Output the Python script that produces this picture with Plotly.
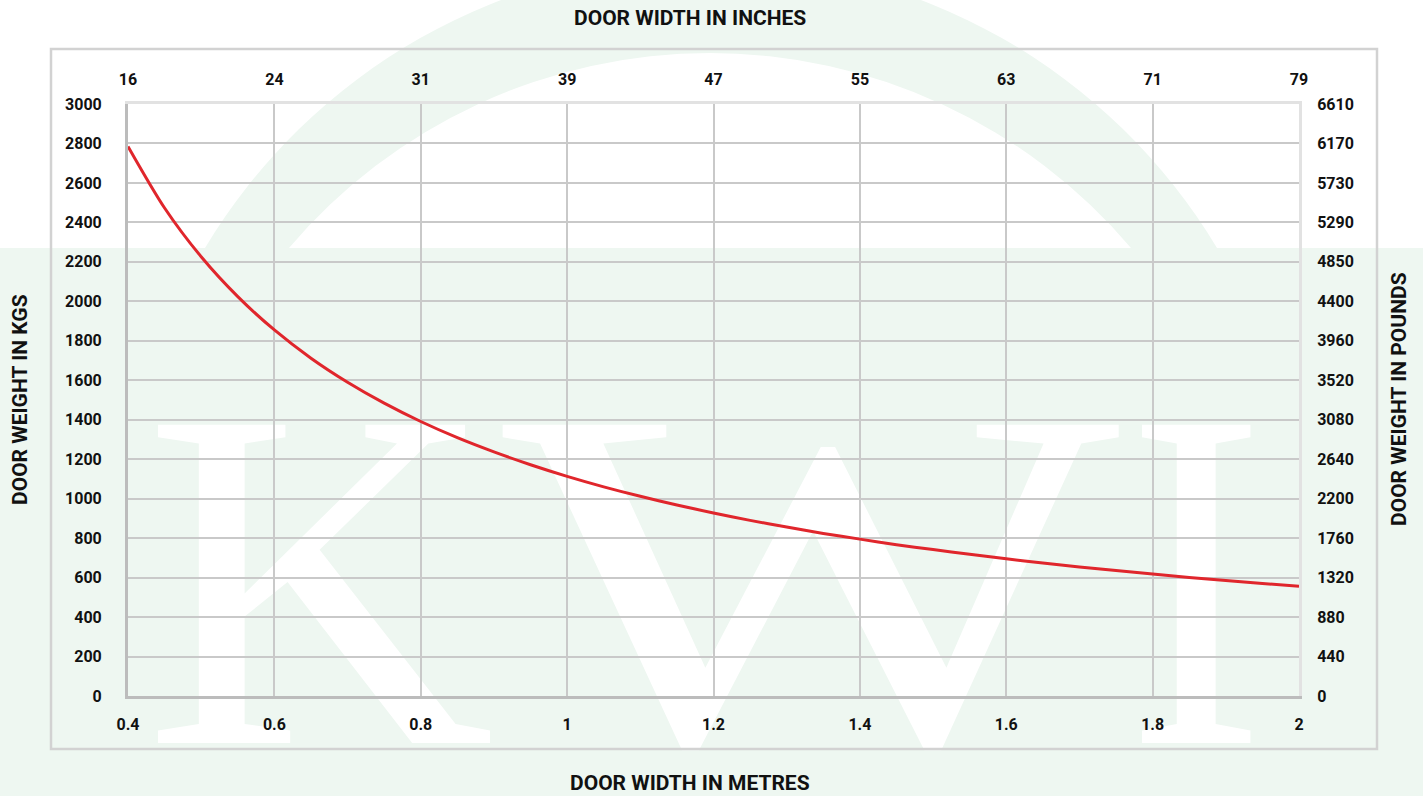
import plotly.graph_objects as go
import base64

# ---------------- data ----------------
width_m = [0.40, 0.45, 0.50, 0.55, 0.60, 0.65, 0.70, 0.75, 0.80, 0.85, 0.90,
           0.95, 1.00, 1.05, 1.10, 1.15, 1.20, 1.25, 1.30, 1.35, 1.40, 1.45,
           1.50, 1.55, 1.60, 1.65, 1.70, 1.75, 1.80, 1.85, 1.90, 1.95, 2.00]
weight_kg = [2785, 2473, 2226, 2024, 1855, 1712, 1590, 1484, 1391, 1309, 1237,
             1172, 1113, 1060, 1012, 968, 927, 890, 856, 824, 795, 767,
             742, 718, 695, 674, 654, 636, 618, 601, 585, 570, 556]

x_ticks_m = [0.4, 0.6, 0.8, 1.0, 1.2, 1.4, 1.6, 1.8, 2.0]
x_tick_m_labels = ["0.4", "0.6", "0.8", "1", "1.2", "1.4", "1.6", "1.8", "2"]
x_tick_in_labels = ["16", "24", "31", "39", "47", "55", "63", "71", "79"]

y_ticks_kg = [0, 200, 400, 600, 800, 1000, 1200, 1400, 1600, 1800, 2000,
              2200, 2400, 2600, 2800, 3000]
y_tick_lb_labels = ["0", "440", "880", "1320", "1760", "2200", "2640", "3080",
                    "3520", "3960", "4400", "4850", "5290", "5730", "6170", "6610"]

title_top = "DOOR WIDTH IN INCHES"
title_bottom = "DOOR WIDTH IN METRES"
title_left = "DOOR WEIGHT IN KGS"
title_right = "DOOR WEIGHT IN POUNDS"

# ---------------- layout geometry ----------------
W, H = 1423, 796
ML, MR, MT, MB = 128, 124, 104, 100
PW, PH = W - ML - MR, H - MT - MB

GREEN = "#eef7f1"
FONT = "Roboto, Liberation Sans, Arial, sans-serif"

# background watermark (svg): green band, arch ring and serif letters
ring = ("M 205,248 A 590 590 0 0 1 1217,248 "
        "L 1131,248 A 552 552 0 0 0 289,248 Z")
svg = f"""<svg xmlns='http://www.w3.org/2000/svg' width='{W}' height='{H}' viewBox='0 0 {W} {H}'>
<rect x='0' y='248' width='{W}' height='{H-248}' fill='{GREEN}'/>
<path d='{ring}' fill='{GREEN}'/>
<g font-family='Liberation Serif, Times New Roman, serif' font-size='486' fill='#ffffff'>
<text x='144' y='743' textLength='351' lengthAdjust='spacingAndGlyphs'>K</text>
<text x='502' y='743' textLength='618' lengthAdjust='spacingAndGlyphs'>W</text>
<text x='1127' y='743' textLength='138' lengthAdjust='spacingAndGlyphs'>I</text>
</g>
</svg>"""
svg_uri = "data:image/svg+xml;base64," + base64.b64encode(svg.encode()).decode()

fig = go.Figure()
fig.add_trace(go.Scatter(x=width_m, y=weight_kg, mode="lines",
                         line=dict(color="#e0262c", width=3, shape="spline", smoothing=0.8),
                         showlegend=False, hoverinfo="x+y"))
# invisible companion trace for the secondary (inches / pounds) axes
fig.add_trace(go.Scatter(x=width_m, y=weight_kg, mode="lines", xaxis="x2", yaxis="y2",
                         line=dict(color="rgba(0,0,0,0)", width=0), showlegend=False, hoverinfo="skip"))

tickfont = dict(family=FONT, size=16, color="#111111", weight="bold")
grid = "#c9c9c9"

fig.update_layout(
    width=W, height=H,
    margin=dict(l=ML, r=MR, t=MT, b=MB),
    paper_bgcolor="white",
    plot_bgcolor="rgba(0,0,0,0)",
    xaxis=dict(range=[0.4, 2.0], tickvals=x_ticks_m, ticktext=x_tick_m_labels, showgrid=True,
               gridcolor=grid, gridwidth=2, showline=True, linecolor="#bcbcbc", linewidth=3,
               zeroline=False, ticks="", tickfont=tickfont, ticklabelstandoff=12),
    xaxis2=dict(range=[0.4, 2.0], tickvals=x_ticks_m, ticktext=x_tick_in_labels, overlaying="x",
                side="top", showgrid=False, showline=True, linecolor="#e2e2e2", linewidth=3,
                zeroline=False, ticks="", tickfont=tickfont, ticklabelstandoff=10),
    yaxis=dict(range=[0, 3000], tickvals=y_ticks_kg, showgrid=True, gridcolor=grid, gridwidth=2,
               showline=True, linecolor="#bcbcbc", linewidth=3, zeroline=False, ticks="",
               tickfont=tickfont, ticklabelstandoff=20),
    yaxis2=dict(range=[0, 3000], tickvals=y_ticks_kg, ticktext=y_tick_lb_labels, overlaying="y",
                side="right", showgrid=False, showline=True, linecolor="#e2e2e2", linewidth=3,
                zeroline=False, ticks="", tickfont=tickfont, ticklabelstandoff=12),
    images=[dict(source=svg_uri, xref="paper", yref="paper", x=-ML / PW, y=1 + MT / PH,
                 sizex=W / PW, sizey=H / PH, xanchor="left", yanchor="top",
                 sizing="stretch", layer="below")],
    shapes=[dict(type="rect", xref="paper", yref="paper", x0=(51 - ML) / PW, x1=(1377 - ML) / PW,
                 y0=1 - (749 - MT) / PH, y1=1 - (49 - MT) / PH,
                 line=dict(color="#d2d2d2", width=2.5), fillcolor="rgba(0,0,0,0)", layer="below")],
    showlegend=False,
)

tfont = dict(family=FONT, size=21, color="#111111", weight="bold")
fig.add_annotation(text=title_top, xref="paper", yref="paper", x=(690 - ML) / PW, y=1 + (MT - 18) / PH,
                   showarrow=False, font=tfont, xanchor="center", yanchor="middle")
fig.add_annotation(text=title_bottom, xref="paper", yref="paper", x=(690 - ML) / PW, y=-(783 - MT - PH) / PH,
                   showarrow=False, font=tfont, xanchor="center", yanchor="middle")
fig.add_annotation(text=title_left, xref="paper", yref="paper", x=(20 - ML) / PW, y=1 - (400 - MT) / PH,
                   showarrow=False, font=tfont, xanchor="center", yanchor="middle", textangle=-90)
fig.add_annotation(text=title_right, xref="paper", yref="paper", x=(1399 - ML) / PW, y=1 - (399 - MT) / PH,
                   showarrow=False, font=tfont, xanchor="center", yanchor="middle", textangle=-90)

fig.write_html("out.html", config={"displayModeBar": False},
               post_script="document.body.style.margin='0px';")
